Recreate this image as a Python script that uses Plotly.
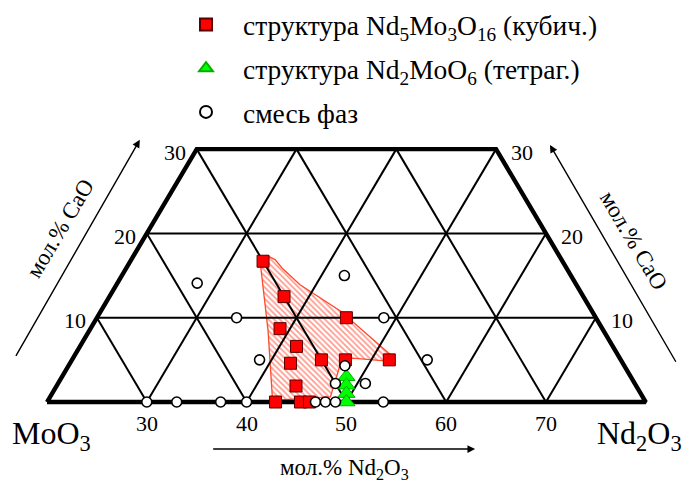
import plotly.graph_objects as go

# ---- data: compositions in mol.% (Nd2O3, CaO); MoO3 is the balance ----
cubic_nd2o3 = [33.3, 37.5, 45.0, 39.0, 41.7, 45.0, 47.4, 51.8, 42.1, 44.0, 42.9, 45.4, 46.3]
cubic_cao = [16.7, 12.5, 10.0, 8.7, 6.6, 5.0, 5.0, 5.0, 4.6, 1.9, 0.0, 0.0, 0.0]

tetra_nd2o3 = [48.5, 49.0, 49.5, 50.0]
tetra_cao = [3.0, 2.0, 1.0, 0.0]

mix_nd2o3 = [28.0, 34.0, 42.3, 48.75, 38.8, 55.6, 47.7, 47.8, 50.8,
             30.0, 33.0, 37.4, 40.0, 46.9, 47.9, 48.9, 53.7]
mix_cao = [14.1, 10.0, 15.0, 10.0, 5.0, 5.0, 4.3, 2.2, 2.2,
           0.0, 0.0, 0.0, 0.0, 0.0, 0.0, 0.0, 0.0]

# outline of the cubic-phase field
field_nd2o3 = [32.7, 33.3, 34.4, 35.6, 38.4, 44.0, 52.0, 51.7, 48.0, 47.2, 48.1, 42.5, 37.9, 32.7]
field_cao = [17.2, 17.4, 16.9, 15.9, 13.9, 10.8, 5.35, 4.85, 5.2, 4.3, 0.6, 0.2, 8.5, 17.2]

# plotted window: Nd2O3 20..80, CaO 0..30 (MoO3 >= 20)
ND_MIN, ND_MAX, CAO_MAX = 20, 80, 30
bottom_ticks = [30, 40, 50, 60, 70]
side_ticks = [10, 20, 30]

FONT = "Liberation Serif, Times New Roman, serif"


def tx(nd, cao):
    """horizontal coordinate of a composition in the ternary layout"""
    return nd + cao / 2.0


def xs(nd_list, cao_list):
    return [tx(n, c) for n, c in zip(nd_list, cao_list)]


fig = go.Figure()

# hatched phase field
fig.add_trace(go.Scatter(
    x=xs(field_nd2o3, field_cao), y=field_cao, mode="lines",
    fill="toself", fillcolor="rgba(255,255,255,0)",
    fillpattern=dict(shape="\\", fgcolor="#ff3218", bgcolor="rgba(255,255,255,0)",
                     size=4, solidity=0.42),
    line=dict(color="#ff4a2a", width=1.3),
    hoverinfo="skip", showlegend=False))

# grid lines at 10 mol.% steps
gx, gy = [], []
for v in [10, 20]:  # CaO = const
    gx += [tx(ND_MIN, v), tx(ND_MAX - v, v), None]
    gy += [v, v, None]
for k in range(30, 80, 10):  # Nd2O3 = const
    top = min(CAO_MAX, ND_MAX - k)
    gx += [tx(k, 0), tx(k, top), None]
    gy += [0, top, None]
for m in range(30, 80, 10):  # MoO3 = const
    top = min(CAO_MAX, 100 - m - ND_MIN)
    gx += [tx(100 - m, 0), tx(100 - m - top, top), None]
    gy += [0, top, None]
fig.add_trace(go.Scatter(x=gx, y=gy, mode="lines", line=dict(color="black", width=2),
                         hoverinfo="skip", showlegend=False))

# outer frame
frame_nd = [ND_MIN, ND_MAX, ND_MAX - CAO_MAX, ND_MIN, ND_MIN]
frame_cao = [0, 0, CAO_MAX, CAO_MAX, 0]
fig.add_trace(go.Scatter(x=xs(frame_nd, frame_cao), y=frame_cao, mode="lines",
                         line=dict(color="black", width=4.4),
                         hoverinfo="skip", showlegend=False))

# samples
fig.add_trace(go.Scatter(
    x=xs(cubic_nd2o3, cubic_cao), y=cubic_cao, mode="markers",
    name="структура Nd<sub>5</sub>Mo<sub>3</sub>O<sub>16</sub> (кубич.)",
    marker=dict(symbol="square", size=12, color="#ff0000",
                line=dict(color="#5a0000", width=1)),
    legendrank=1, legendgroup="a"))
fig.add_trace(go.Scatter(
    x=xs(tetra_nd2o3, tetra_cao), y=tetra_cao, mode="markers",
    name="структура Nd<sub>2</sub>MoO<sub>6</sub> (тетраг.)",
    marker=dict(symbol="triangle-up", size=15, color="#00ff00",
                line=dict(color="#00b000", width=1)),
    legendrank=2, legendgroup="b"))
fig.add_trace(go.Scatter(
    x=xs(mix_nd2o3, mix_cao), y=mix_cao, mode="markers",
    name="смесь фаз",
    marker=dict(symbol="circle", size=10, color="white",
                line=dict(color="black", width=1.6)),
    legendrank=3, legendgroup="c"))

ann = []
tick_font = dict(family=FONT, size=22, color="black")
for v in bottom_ticks:
    ann.append(dict(x=tx(v, 0), y=0, text=str(v), showarrow=False, font=tick_font,
                    xanchor="center", yanchor="middle", yshift=-21))
for v in side_ticks:
    ann.append(dict(x=tx(ND_MIN, v), y=v, text=str(v), showarrow=False, font=tick_font,
                    xanchor="right", yanchor="middle", xshift=-9, yshift=-3))
    ann.append(dict(x=tx(ND_MAX - v, v), y=v, text=str(v), showarrow=False, font=tick_font,
                    xanchor="left", yanchor="middle", xshift=13, yshift=-3))

big_font = dict(family=FONT, size=32, color="black")
ann.append(dict(x=tx(ND_MIN, 0), y=0, text="MoO<sub>3</sub>", showarrow=False, font=big_font,
                xanchor="center", yanchor="middle", xshift=4, yshift=-33))
ann.append(dict(x=tx(ND_MAX, 0), y=0, text="Nd<sub>2</sub>O<sub>3</sub>", showarrow=False,
                font=big_font, xanchor="center", yanchor="middle", xshift=-6, yshift=-33))

label_font = dict(family=FONT, size=23, color="black")
ann.append(dict(x=49.8, y=-7.9, text="мол.% Nd<sub>2</sub>O<sub>3</sub>", showarrow=False,
                font=label_font, xanchor="center", yanchor="middle"))
ann.append(dict(x=21.3, y=20.6, text="мол.% CaO", showarrow=False, font=label_font,
                textangle=-59.4, xanchor="center", yanchor="middle"))
ann.append(dict(x=78.8, y=19.2, text="мол.% CaO", showarrow=False, font=label_font,
                textangle=59.4, xanchor="center", yanchor="middle"))

# direction arrows
arrow = dict(showarrow=True, arrowhead=2, arrowsize=1.1, arrowwidth=1.4, arrowcolor="black",
             axref="x", ayref="y", text="")
ann.append(dict(arrow, x=62.9, y=-5.58, ax=36.5, ay=-5.58))
ann.append(dict(arrow, x=29.3, y=31.1, ax=16.8, ay=5.3))
ann.append(dict(arrow, x=70.4, y=30.5, ax=83.1, ay=4.6))

fig.update_layout(
    width=684, height=481, autosize=False,
    margin=dict(l=0, r=0, t=0, b=0),
    paper_bgcolor="white", plot_bgcolor="white",
    xaxis=dict(range=[15.29, 83.83], visible=False, fixedrange=True),
    yaxis=dict(range=[-9.37, 47.69], visible=False, fixedrange=True),
    font=dict(family=FONT, color="black"),
    legend=dict(x=169 / 684, y=1.0, xanchor="left", yanchor="top",
                font=dict(family=FONT, size=27.5, color="black"),
                bgcolor="rgba(0,0,0,0)", tracegroupgap=5, itemsizing="constant",
                itemwidth=64),
    annotations=ann,
    showlegend=True,
)

fig.write_html("out.html")
